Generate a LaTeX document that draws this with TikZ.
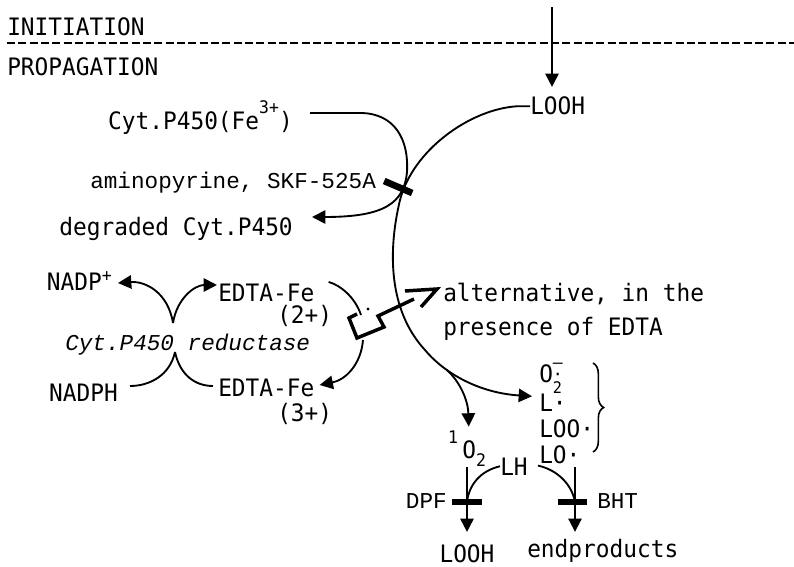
\documentclass[tikz,border=0pt]{standalone}
\usepackage{fontspec}
\usetikzlibrary{arrows.meta, decorations.pathreplacing}
\newfontfamily\gothicfont[FakeStretch=0.95]{DejaVu Sans Mono}
\newfontfamily\courfont{Liberation Mono}
\newcommand{\supsz}{\fontsize{13}{13}\selectfont}

\begin{document}
\begin{tikzpicture}[x=0.75pt, y=-0.75pt, >={Triangle[length=10pt, width=10pt]},
    lbl/.style={inner sep=0pt, font=\gothicfont\fontsize{18}{20}\selectfont},
    clbl/.style={inner sep=0pt, font=\courfont\fontsize{17}{20}\selectfont},
    ilbl/.style={inner sep=0pt, font=\courfont\itshape\fontsize{17}{20}\selectfont},
    small/.style={inner sep=0pt, font=\gothicfont\fontsize{13}{15}\selectfont},
    flow/.style={line width=1.4pt},
    block/.style={line width=5pt},
    switch/.style={line width=2.6pt, line join=miter}]
  \useasboundingbox (0,0) rectangle (794,567);

  % phases
  \node[lbl, anchor=base west] (init) at (7,36) {INITIATION};
  \node[lbl, anchor=base west] (prop) at (7,76) {PROPAGATION};
  \draw[line width=1.1pt, dash pattern=on 6pt off 2.5pt] (7,43) -- (794,43);

  % incoming peroxide
  \node[lbl, anchor=base west] (looh) at (530,115) {LOOH};
  \coordinate (src) at (552,7);
  \draw[flow, ->, shorten >=7.5pt] (src) -- (src |- looh.north);

  % cytochrome P450 branch
  \node[lbl, anchor=base east] (cyt) at (293,130)
    {Cyt.P450(Fe\raisebox{12pt}{\supsz 3+})};
  \node[clbl, anchor=base west] (amino) at (90,189) {aminopyrine, SKF-525A};
  \node[lbl, anchor=base east] (degr) at (293,236) {degraded Cyt.P450};
  \draw[flow, ->] (cyt.base east) ++(17,-17) -- ++(50,0)
      .. controls +(35,0) and (409,140) .. (407,172)
      .. controls (404,203) and (385,217) .. ([shift={(19,-19)}]degr.base east);

  % radical chain
  \node[lbl, anchor=base west] (lrad) at (539,411) {L·};
  \draw[flow, ->] (looh.west) -- ++(-13,0)
      .. controls +(-47,3) and (413,150) .. (400,200)
      .. controls (388,250) and (388,310) .. (425,350)
      .. controls (445,374) and (480,393) .. ([shift={(-7,-6)}]lrad.west);
  \draw[block] ([shift={(8,-8)}]amino.base east) -- ++(28,12);

  % reductase cycle
  \node[lbl, anchor=base east] (nadp) at (112,291)
    {NADP\raisebox{7pt}{\supsz +}};
  \node[lbl, anchor=base west] (edtaII) at (218,301) {EDTA-Fe};
  \node[lbl, anchor=base west] (chgII) at (277,324) {(2+)};
  \node[ilbl, anchor=base west] (reduct) at (65,350) {Cyt.P450 reductase};
  \node[lbl, anchor=base east] (nadph) at (118,402) {NADPH};
  \node[lbl, anchor=base west] (edtaIII) at (218,397) {EDTA-Fe};
  \node[lbl, anchor=base west] (chgIII) at (277,421) {(3+)};
  \coordinate (rtop) at (173,323);
  \coordinate (rbot) at (175,352);
  \draw[flow, ->] (rtop) .. controls (168,292) and (145,281) .. ([shift={(6,-8)}]nadp.base east);
  \draw[flow, ->] (rtop) .. controls (177,298) and (195,285) .. ([shift={(-1,-16)}]edtaII.base west);
  \draw[flow] (nadph.base east) ++(12,-16) .. controls (150,386) and (170,375) .. (rbot);
  \draw[flow] ([shift={(-5,-11)}]edtaIII.base west) .. controls (195,386) and (180,375) .. (rbot);

  % EDTA route with switch
  \draw[flow] ([shift={(14,-19)}]edtaII.base east) .. controls (340,285) and (355,297) .. (361,315);
  \draw[flow, ->] (363,340) .. controls (361,365) and (345,380) .. ([shift={(5,-12)}]edtaIII.base east);
  \node[lbl, anchor=base west] (alt) at (443,301) {alternative, in the};
  \node[lbl, anchor=base west] (alt2) at (443,335) {presence of EDTA};
  \coordinate (alttip) at ([shift={(-6,-12)}]alt.base west);
  \draw[switch] (357,314) -- (349,318) -- (357,338) -- (384,327) -- (378,316)
      -- ([shift={(-23,10)}]alttip);
  \draw[switch] ([shift={(-32,2)}]alttip) -- (alttip) -- ++(-16,18);
  \fill (368,309) circle[radius=1.2pt];

  % radical products
  \node[lbl, anchor=base west] (otwo) at (539,382)
    {O\rlap{\raisebox{10pt}[0pt][0pt]{\supsz –}}\rlap{\raisebox{1.5pt}[0pt][0pt]{\supsz ·}}\raisebox{-9pt}[0pt][0pt]{\fontsize{12}{12}\selectfont 2}};
  \node[lbl, anchor=base west] (loo) at (539,437) {LOO·};
  \node[lbl, anchor=base west] (lo) at (539,463) {LO·};
  \draw[line width=1.2pt, decorate, decoration={brace, amplitude=8pt}] (593,363) -- (593,452);

  % singlet oxygen
  \node[small, anchor=base] (sing) at (453,443) {1};
  \node[lbl, anchor=base west] (singO) at (462,458) {O};
  \node[small, anchor=base] (singsub) at (481,466) {2};
  \coordinate (fork) at (447,370);
  \draw[flow, ->, shorten >=10pt] (fork) .. controls (460,382) and (468,400) .. (singO.north);

  % scavengers
  \node[lbl, anchor=base west] (lh) at (500,475) {LH};
  \node[lbl, anchor=base] (looh2) at (467,562) {LOOH};
  \node[clbl, anchor=base east] (dpf) at (447,508) {DPF};
  \coordinate (dtop) at (467,467);
  \coordinate (dbar) at (467,502);
  \draw[flow, ->, shorten >=9pt] (dtop) -- (dtop |- looh2.north);
  \draw[flow] (lh.west) .. controls (480,471) and (469,485) .. (dbar);
  \draw[block] ([xshift=-11pt]dbar) -- ([xshift=11pt]dbar);

  \node[clbl, anchor=base west] (bht) at (597,508) {BHT};
  \node[lbl, anchor=base west] (endp) at (527,557) {endproducts};
  \coordinate (btop) at (575,467);
  \coordinate (bbar) at (575,502);
  \draw[flow, ->, shorten >=5pt] (btop) -- (btop |- endp.north);
  \draw[flow] ([shift={(-1,2)}]lo.south west) .. controls (558,470) and (572,485) .. (bbar);
  \draw[block] ([xshift=-13pt]bbar) -- ([xshift=9pt]bbar);
\end{tikzpicture}
\end{document}
